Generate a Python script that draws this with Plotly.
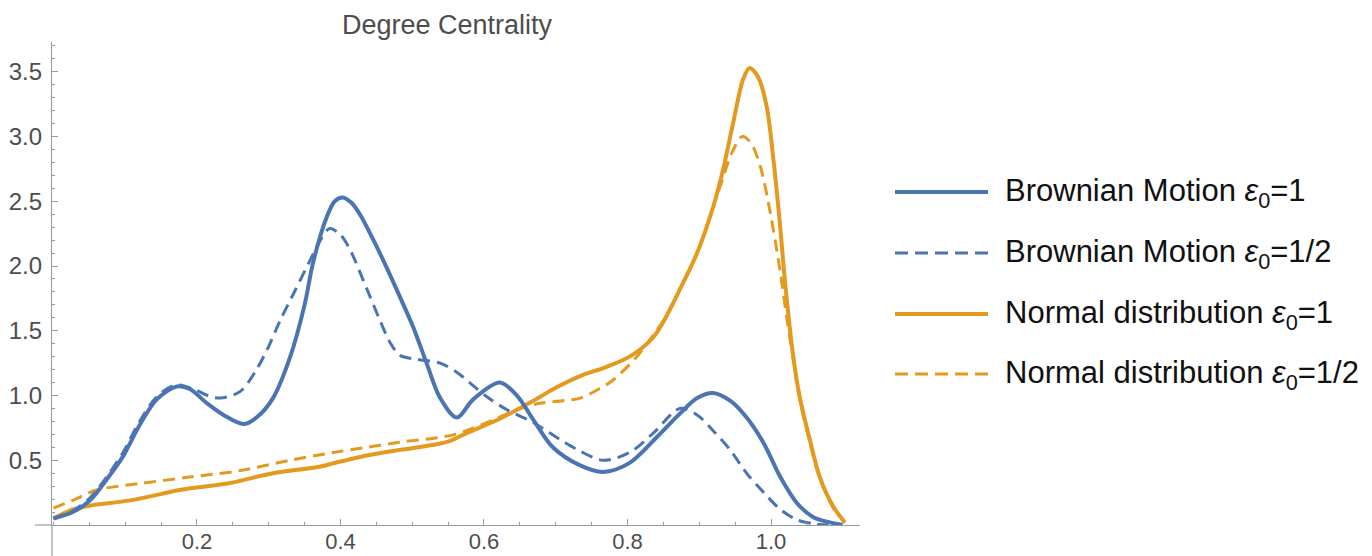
import plotly.graph_objects as go

# ---- data ----
bm1_x = [0.0, 0.027, 0.051, 0.074, 0.097, 0.12, 0.144, 0.172, 0.19, 0.214, 0.237, 0.265, 0.283,
         0.306, 0.33, 0.35, 0.362, 0.381, 0.392, 0.403, 0.415, 0.427, 0.446, 0.465, 0.483, 0.502,
         0.52, 0.539, 0.562, 0.585, 0.622, 0.646, 0.669, 0.696, 0.734, 0.766, 0.803, 0.841,
         0.873, 0.897, 0.919, 0.943, 0.966, 0.99, 1.013, 1.036, 1.059, 1.082, 1.10]
bm1_y = [0.05, 0.10, 0.19, 0.35, 0.53, 0.77, 0.97, 1.07, 1.05, 0.94, 0.85, 0.78, 0.83,
         0.98, 1.30, 1.70, 2.03, 2.38, 2.50, 2.53, 2.49, 2.40, 2.20, 1.98, 1.76, 1.52,
         1.25, 0.98, 0.83, 0.97, 1.10, 1.00, 0.81, 0.60, 0.46, 0.41, 0.48, 0.68,
         0.86, 0.98, 1.02, 0.96, 0.83, 0.63, 0.37, 0.17, 0.06, 0.02, 0.0]

bmh_x = [0.0, 0.027, 0.051, 0.074, 0.097, 0.12, 0.144, 0.17, 0.195, 0.215, 0.232, 0.26, 0.283,
         0.30, 0.316, 0.334, 0.36, 0.372, 0.385, 0.40, 0.413, 0.437, 0.455, 0.469, 0.483, 0.506,
         0.539, 0.562, 0.58, 0.604, 0.632, 0.669, 0.706, 0.734, 0.766, 0.803, 0.836, 0.873,
         0.897, 0.919, 0.943, 0.966, 0.99, 1.013, 1.036, 1.059, 1.08]
bmh_y = [0.05, 0.11, 0.21, 0.37, 0.56, 0.80, 0.99, 1.08, 1.05, 1.00, 0.98, 1.03, 1.20,
         1.38, 1.58, 1.78, 2.07, 2.20, 2.29, 2.24, 2.13, 1.82, 1.58, 1.41, 1.31, 1.28,
         1.25, 1.18, 1.10, 0.99, 0.89, 0.79, 0.66, 0.57, 0.50, 0.56, 0.71, 0.90,
         0.85, 0.73, 0.58, 0.40, 0.25, 0.12, 0.04, 0.01, 0.0]

nd1_x = [0.0, 0.027, 0.051, 0.107, 0.176, 0.2, 0.242, 0.306, 0.371, 0.4, 0.44, 0.483, 0.53,
         0.553, 0.576, 0.622, 0.669, 0.70, 0.734, 0.77, 0.803, 0.836, 0.855, 0.873, 0.897,
         0.919, 0.933, 0.947, 0.961, 0.970, 0.982, 0.994, 1.003, 1.012, 1.02, 1.031, 1.040,
         1.054, 1.068, 1.087, 1.103]
nd1_y = [0.05, 0.12, 0.15, 0.19, 0.27, 0.29, 0.32, 0.40, 0.45, 0.49, 0.54, 0.58, 0.62,
         0.65, 0.71, 0.82, 0.96, 1.06, 1.15, 1.22, 1.30, 1.45, 1.62, 1.82, 2.10,
         2.45, 2.74, 3.10, 3.44, 3.53, 3.46, 3.23, 2.84, 2.35, 1.85, 1.30, 0.99,
         0.66, 0.37, 0.14, 0.02]

ndh_x = [0.0, 0.027, 0.06, 0.12, 0.19, 0.26, 0.33, 0.39, 0.437, 0.483, 0.53, 0.56, 0.604,
         0.646, 0.678, 0.71, 0.734, 0.76, 0.78, 0.813, 0.831, 0.855, 0.873, 0.897, 0.919,
         0.933, 0.945, 0.96, 0.972, 0.985, 0.999, 1.013, 1.022, 1.031, 1.040, 1.054, 1.068,
         1.087, 1.103]
ndh_y = [0.13, 0.19, 0.27, 0.32, 0.37, 0.42, 0.50, 0.56, 0.60, 0.64, 0.67, 0.70, 0.79,
         0.89, 0.94, 0.96, 0.98, 1.05, 1.12, 1.30, 1.43, 1.62, 1.82, 2.10, 2.45,
         2.68, 2.87, 3.00, 2.95, 2.77, 2.41, 1.95, 1.60, 1.28, 0.97, 0.64, 0.36,
         0.13, 0.02]

series_names = ["Brownian Motion <i>ε</i><sub>0</sub>=1",
                "Brownian Motion <i>ε</i><sub>0</sub>=1/2",
                "Normal distribution <i>ε</i><sub>0</sub>=1",
                "Normal distribution <i>ε</i><sub>0</sub>=1/2"]
x_ticks = [0.2, 0.4, 0.6, 0.8, 1.0]
x_ticklabels = ["0.2", "0.4", "0.6", "0.8", "1.0"]
y_ticks = [0.5, 1.0, 1.5, 2.0, 2.5, 3.0, 3.5]
y_ticklabels = ["0.5", "1.0", "1.5", "2.0", "2.5", "3.0", "3.5"]

BLUE = "#4b74b3"
ORANGE = "#e39a1e"
DASH = "12px,7px"
FONT = "Liberation Sans, Arial, sans-serif"

series = [
    (bm1_x, bm1_y, BLUE, "solid", 4),
    (bmh_x, bmh_y, BLUE, DASH, 3),
    (nd1_x, nd1_y, ORANGE, "solid", 4),
    (ndh_x, ndh_y, ORANGE, DASH, 3),
]

fig = go.Figure()
for idx in [2, 3, 0, 1]:
    xs, ys, col, dash, w = series[idx]
    fig.add_trace(go.Scatter(x=xs, y=ys, mode="lines", name=series_names[idx],
                             line=dict(color=col, width=w, dash=dash, shape="spline", smoothing=0.9),
                             showlegend=False, hoverinfo="skip"))

# plot area in pixels: left 52, right 860, top 42, bottom 525
L, R, T, B = 52, 860, 42, 525
W, H = 1372, 556
pw, ph = R - L, B - T

def px2paper_x(px):
    return (px - L) / pw

def px2paper_y(py):
    return (B - py) / ph

AXC = "#9a9a9a"
TXT = "#4d4d4d"

shapes = []
annotations = []
# axis extensions (Mathematica-style crossing axes)
shapes.append(dict(type="line", xref="paper", yref="paper", x0=px2paper_x(35), x1=0,
                   y0=0, y1=0, line=dict(color=AXC, width=1.2)))
shapes.append(dict(type="line", xref="paper", yref="paper", x0=0, x1=0,
                   y0=px2paper_y(556), y1=0, line=dict(color=AXC, width=1.2)))

# custom legend
rows_py = [192, 253, 314, 374]
styles = [(BLUE, "solid", 4), (BLUE, "13px,7px", 3), (ORANGE, "solid", 4), (ORANGE, "13px,7px", 3)]
for name, py, (col, dash, w) in zip(series_names, rows_py, styles):
    shapes.append(dict(type="line", xref="paper", yref="paper",
                       x0=px2paper_x(895), x1=px2paper_x(988),
                       y0=px2paper_y(py), y1=px2paper_y(py),
                       line=dict(color=col, width=w, dash=dash)))
    annotations.append(dict(xref="paper", yref="paper", x=px2paper_x(1003), y=px2paper_y(py + 1),
                            xanchor="left", yanchor="middle", showarrow=False, text=name,
                            font=dict(family=FONT, size=31, color="#111111")))

fig.update_layout(
    width=W, height=H,
    margin=dict(l=L, r=W - R, t=T, b=H - B, pad=0, autoexpand=False),
    paper_bgcolor="white", plot_bgcolor="white",
    title=dict(text="Degree Centrality", x=447 / W, xanchor="center", xref="container",
               y=1 - 25 / H, yanchor="middle", yref="container",
               font=dict(family=FONT, size=27, color=TXT)),
    shapes=shapes, annotations=annotations,
    font=dict(family=FONT),
)

fig.update_xaxes(range=[-0.002, 1.124], showgrid=False, zeroline=False, automargin=False,
                 showline=True, linecolor=AXC, linewidth=1.2,
                 tickmode="array", tickvals=x_ticks, ticktext=x_ticklabels,
                 ticks="inside", ticklen=6, tickcolor=AXC, tickwidth=1.2,
                 tickfont=dict(size=22, color=TXT), ticklabelstandoff=-4,
                 minor=dict(tickmode="linear", tick0=0, dtick=0.05, ticks="inside",
                            ticklen=3, tickcolor=AXC, tickwidth=1))
fig.update_yaxes(range=[0, 3.73], showgrid=False, zeroline=False, automargin=False,
                 showline=True, linecolor=AXC, linewidth=1.2,
                 tickmode="array", tickvals=y_ticks, ticktext=y_ticklabels,
                 ticks="inside", ticklen=6, tickcolor=AXC, tickwidth=1.2,
                 tickfont=dict(size=24, color=TXT), ticklabelstandoff=4,
                 minor=dict(tickmode="linear", tick0=0, dtick=0.1, ticks="inside",
                            ticklen=3, tickcolor=AXC, tickwidth=1))

fig.write_html("out.html", config={"displayModeBar": False},
               post_script="document.body.style.margin='0';document.body.style.overflow='hidden';")
